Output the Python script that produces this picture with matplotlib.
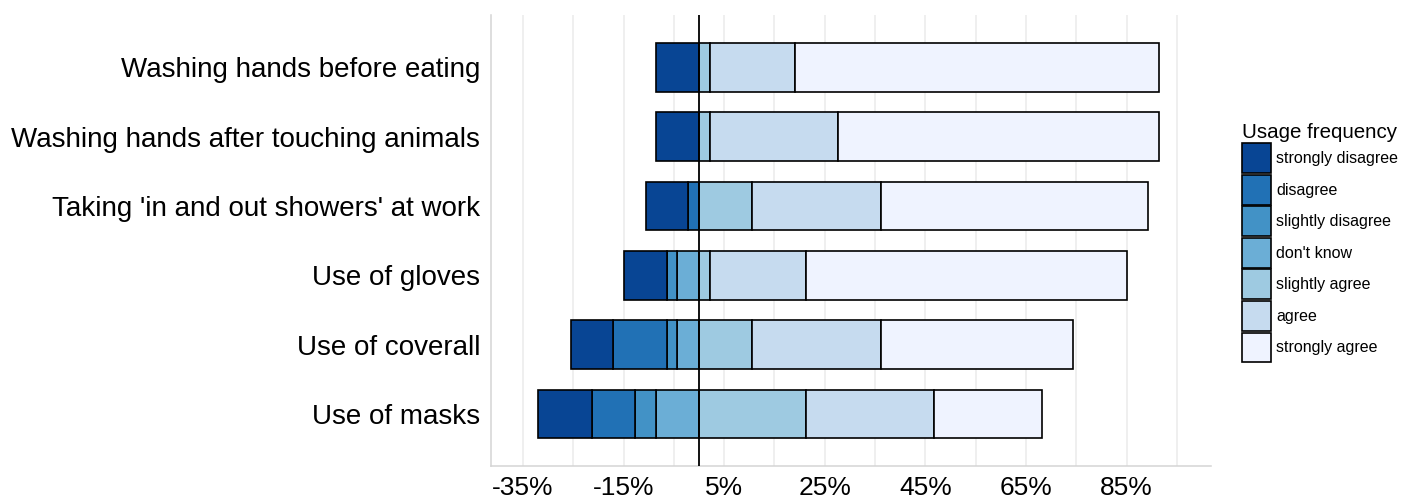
import matplotlib
matplotlib.use("Agg")
import matplotlib.pyplot as plt
import numpy as np
from matplotlib.ticker import FixedLocator

plt.rcParams['font.family'] = ['Liberation Sans', 'DejaVu Sans']

categories = ["Washing hands before eating",
              "Washing hands after touching animals",
              "Taking 'in and out showers' at work",
              "Use of gloves",
              "Use of coverall",
              "Use of masks"]

# percentages per response level
strongly_disagree = [8.5, 8.5, 8.5, 8.5, 8.5, 10.6]
disagree = [0.0, 0.0, 2.1, 0.0, 10.6, 8.5]
slightly_disagree = [0.0, 0.0, 0.0, 2.1, 2.1, 4.3]
dont_know = [0.0, 0.0, 0.0, 4.3, 4.3, 8.5]
slightly_agree = [2.1, 2.1, 10.6, 2.1, 10.6, 21.3]
agree = [17.0, 25.5, 25.5, 19.1, 25.5, 25.5]
strongly_agree = [72.3, 63.8, 53.2, 63.8, 38.3, 21.3]

level_names = ["strongly disagree", "disagree", "slightly disagree", "don't know",
               "slightly agree", "agree", "strongly agree"]
level_colors = ["#084594", "#2171B5", "#4292C6", "#6BAED6", "#9ECAE1", "#C6DBEF", "#EFF3FF"]

x_ticks = [-35, -15, 5, 25, 45, 65, 85]
x_minor = [-25, -5, 15, 35, 55, 75, 95]

fig = plt.figure(figsize=(14.11, 5.0), dpi=100)
ax = fig.add_axes([490.7 / 1411, 34 / 500, 720 / 1411, 450.7 / 500])

y = np.arange(len(categories))
bar_h = 0.70
edge_kw = dict(edgecolor="black", linewidth=1.2, height=bar_h, zorder=3)

handles = {}
# negative side: from zero outward
neg_order = [("don't know", dont_know), ("slightly disagree", slightly_disagree),
             ("disagree", disagree), ("strongly disagree", strongly_disagree)]
cum = np.zeros(len(categories))
for name, vals in neg_order:
    vals = np.array(vals)
    c = level_colors[level_names.index(name)]
    handles[name] = ax.barh(y, vals, left=-(cum + vals), color=c, **edge_kw)
    cum = cum + vals

pos_order = [("slightly agree", slightly_agree), ("agree", agree), ("strongly agree", strongly_agree)]
cum = np.zeros(len(categories))
for name, vals in pos_order:
    vals = np.array(vals)
    c = level_colors[level_names.index(name)]
    handles[name] = ax.barh(y, vals, left=cum, color=c, **edge_kw)
    cum = cum + vals

ax.axvline(0, color="black", linewidth=1.3, zorder=4)

ax.set_xlim(-41.4, 101.7)
ax.set_ylim(len(categories) - 0.25, -0.75)

ax.xaxis.set_major_locator(FixedLocator(x_ticks))
ax.xaxis.set_minor_locator(FixedLocator(x_minor))
ax.set_xticklabels([f"{t}%" for t in x_ticks])
ax.set_yticks(y)
ax.set_yticklabels(categories)

ax.grid(True, axis="x", which="both", color="#EBEBEB", linewidth=1.1, zorder=0)
ax.set_axisbelow(True)
ax.tick_params(axis="both", which="both", length=0)
ax.tick_params(axis="x", labelsize=19, pad=7.5, colors="black")
ax.tick_params(axis="y", labelsize=20, pad=7.7, colors="black")

for s in ["top", "right"]:
    ax.spines[s].set_visible(False)
for s in ["left", "bottom"]:
    ax.spines[s].set_color("#D4D4D4")
    ax.spines[s].set_linewidth(1.1)

leg = fig.legend([handles[n] for n in level_names], level_names,
                 title="Usage frequency", loc="center left",
                 bbox_to_anchor=(1242 / 1411, 0.515), frameon=False,
                 fontsize=11.5, title_fontsize=14.8, handlelength=1.83,
                 handleheight=2.51, labelspacing=0.1, handletextpad=0.31,
                 borderpad=0, borderaxespad=0, alignment="left")

fig.savefig("out.png", dpi=100)
